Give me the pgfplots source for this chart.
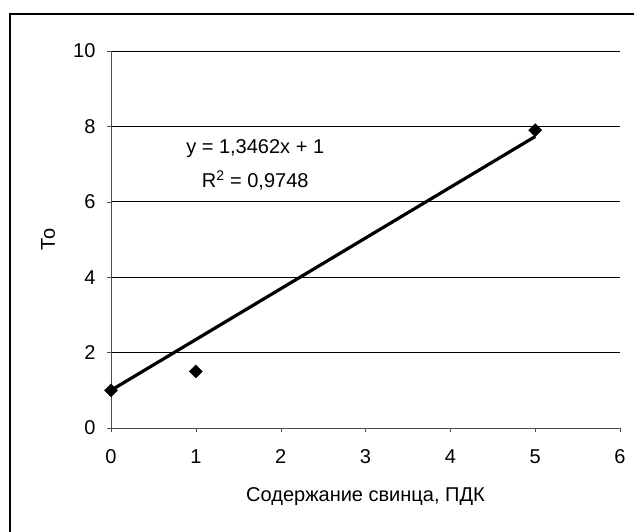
\documentclass[border=0pt]{standalone}
\usepackage{pgfplots}
\pgfplotsset{compat=1.18}
\usepackage{fontspec}
\setmainfont{Liberation Sans}
\begin{document}
\begin{tikzpicture}[x=1pt,y=1pt]
\useasboundingbox (0,0) rectangle (634,532);
\draw[line width=1.5pt] (10,-5) -- (10,518) -- (640,518);
\begin{axis}[
  at={(111pt,104pt)}, anchor=south west,
  scale only axis, width=509pt, height=377pt,
  xmin=0, xmax=6, ymin=0, ymax=10,
  xtick={0,1,...,6}, ytick={0,2,...,10},
  axis x line=bottom, axis y line=left,
  axis line style={draw=black!70, -},
  tick style={draw=black!70},
  tick align=outside, major tick length=4pt,
  ymajorgrids, grid style={black, line width=0.8pt},
  font=\fontsize{20}{24}\selectfont,
  ticklabel style={font=\fontsize{20}{24}\selectfont},
  yticklabel style={xshift=-8pt},
  xticklabel style={yshift=-14pt},
  /pgf/number format/assume math mode=true,
  xlabel={Содержание свинца, ПДК},
  xlabel style={at={(axis description cs:0.5,0)}, anchor=center, yshift=-69pt},
  clip=false,
]
\addplot[black, line width=3.2pt, no marks] coordinates {(0,1) (5,7.731)};
\addplot[only marks, mark=square*, mark size=4.6pt, mark options={rotate=45}, black] coordinates {(0,1) (1,1.5) (5,7.9)};
\node[align=center, font=\fontsize{20}{34}\selectfont] at (axis cs:1.70,6.98) {y = 1,3462x + 1\\R\textsuperscript{2} = 0,9748};
\node[rotate=90, anchor=center, font=\fontsize{20}{24}\selectfont] at ([xshift=-63pt]rel axis cs:0,0.5) {То};
\end{axis}
\end{tikzpicture}
\end{document}
